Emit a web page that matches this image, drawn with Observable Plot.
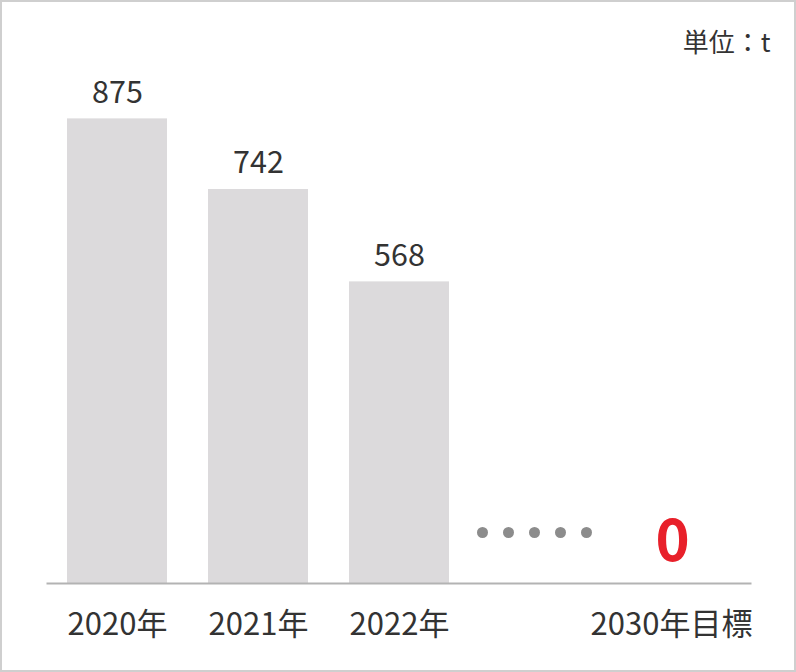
<!DOCTYPE html>
<html>
<head>
<meta charset="utf-8">
<script src="https://cdn.jsdelivr.net/npm/d3@7"></script>
<script src="https://cdn.jsdelivr.net/npm/@observablehq/plot@0.6"></script>
<style>
  html, body { margin: 0; padding: 0; background: #fff; }
  #wrap { position: relative; width: 796px; height: 672px; }
  #wrap svg { display: block; }
  #border { position: absolute; inset: 0; border: 2px solid #cfcfcf; box-sizing: border-box; pointer-events: none; }
</style>
</head>
<body>
<div id="wrap"><div id="border"></div></div>
<script>
const categories = ["2020年", "2021年", "2022年", "…", "2030年目標"];
const years = ["2020年", "2021年", "2022年"];
const values = [875, 742, 568];
const targetLabel = "2030年目標";
const targetValue = 0;
const gapCategory = "…";
const gapDots = [-2, -1, 0, 1, 2];
const unitLabel = "単位：t";

const bars = years.map((c, i) => ({cat: c, v: values[i]}));
const target = [{cat: targetLabel, v: targetValue}];

const font = "'Noto Sans CJK JP', 'Noto Sans', sans-serif";

const chart = Plot.plot({
  width: 796,
  height: 672,
  marginLeft: 46.5,
  marginRight: 44.5,
  marginTop: 52,
  marginBottom: 89,
  style: {fontFamily: font, background: "transparent", color: "#333"},
  x: {type: "band", domain: categories, paddingInner: 0.29, paddingOuter: 0.145, axis: null},
  y: {domain: [0, 1000], axis: null},
  marks: [
    Plot.barY(bars, {x: "cat", y: "v", fill: "#dcdadc"}),
    Plot.ruleY([0], {stroke: "#b3b3b3", strokeWidth: 2}),
    Plot.text(bars, {x: "cat", y: "v", text: d => String(d.v), dy: -16, lineAnchor: "bottom", fontSize: 30.5, fill: "#333"}),
    Plot.text(bars, {x: "cat", text: "cat", frameAnchor: "bottom", dy: 51, lineAnchor: "bottom", fontSize: 31, fill: "#333"}),
    Plot.text(target, {x: "cat", text: "cat", frameAnchor: "bottom", dy: 51, dx: -10, lineAnchor: "bottom", fontSize: 31, fill: "#333"}),
    Plot.text(target, {x: "cat", y: "v", text: d => String(d.v), dy: -23, dx: -9, lineAnchor: "bottom", fontSize: 58, fontWeight: "bold", fill: "#e8202a"}),
    ...gapDots.map(k => Plot.dot([gapCategory], {x: d => d, frameAnchor: "bottom", dy: -51, dx: k * 26 - 6, r: 5.5, fill: "#8c8c8c", stroke: null})),
    Plot.text([unitLabel], {text: d => d, frameAnchor: "top-right", textAnchor: "end", dx: 18.5, dy: -1, lineAnchor: "bottom", fontSize: 26, fill: "#333"})
  ]
});
document.getElementById("wrap").prepend(chart);
</script>
</body>
</html>
